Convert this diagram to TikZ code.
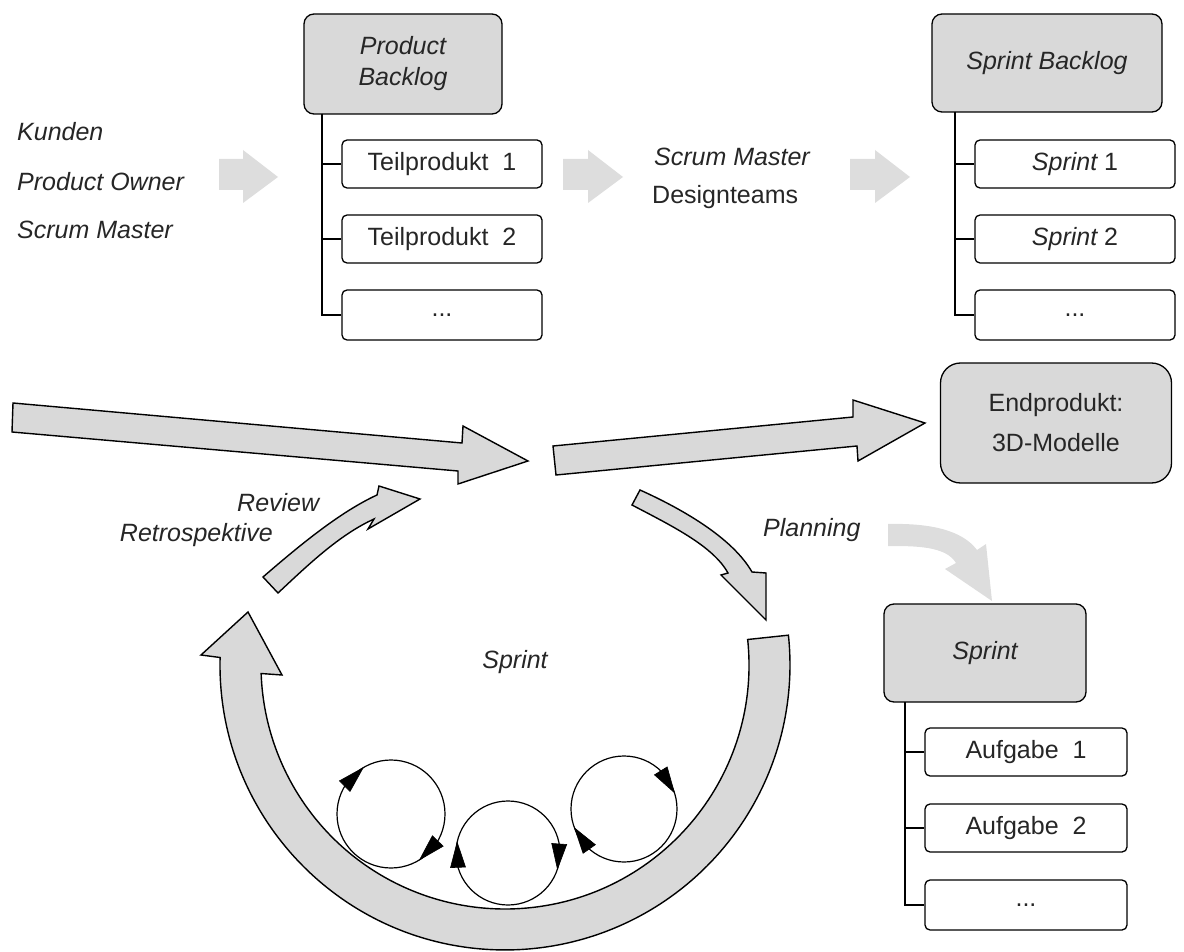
\documentclass[tikz,border=0pt]{standalone}
\usepackage{fontspec}
\setmainfont{Liberation Sans}
\usetikzlibrary{arrows.meta,calc}
\definecolor{boxgray}{HTML}{D9D9D9}
\definecolor{lightgr}{HTML}{DDDDDD}
\definecolor{txt}{HTML}{262626}
\newcommand\myfs{\fontsize{25}{31}\selectfont}
\begin{document}
\begin{tikzpicture}[x=1pt,y=-1pt,
  box/.style={draw=black, line width=1.3pt, rounded corners=5pt, minimum width=200pt,
    minimum height=48pt, inner sep=0pt, font=\myfs, text=txt, fill=white},
  headbox/.style={box, fill=boxgray, rounded corners=10pt, align=center},
  lbl/.style={font=\myfs\itshape, text=txt, inner sep=0pt},
  plain/.style={font=\myfs, text=txt, inner sep=0pt},
  tree/.style={line width=1.3pt, draw=black},
  bigarrow/.style={draw=black, line width=1.4pt, fill=boxgray, line join=miter},
  lightarrow/.style={fill=lightgr, draw=none},
  loopline/.style={line width=1.2pt},
  looptri/.style={fill=black, draw=black, line width=0.6pt, line join=miter}]
\useasboundingbox (0,0) rectangle (1184,952);

% ---- left labels
\node[lbl, anchor=west] (kunden) at (17,132) {Kunden};
\node[lbl, anchor=west] (po) at (17,182) {Product Owner};
\node[lbl, anchor=west] (sm1) at (17,230) {Scrum Master};

% ---- light arrows top row
\fill[lightarrow] (219,159) -- (243,159) -- (243,150) -- (278,177) -- (243,203) -- (243,190) -- (219,190) -- cycle;
\fill[lightarrow] (563,159) -- (588,159) -- (588,150) -- (623,177) -- (588,203) -- (588,190) -- (563,190) -- cycle;
\fill[lightarrow] (850,159) -- (875,159) -- (875,150) -- (910,177) -- (875,203) -- (875,190) -- (850,190) -- cycle;

% ---- Product backlog tree
\node[headbox, minimum width=198pt, minimum height=100pt, font=\myfs\itshape] (pb) at (403,64) {Product\\Backlog};
\node[box] (t1) at (442,164) {Teilprodukt\ \ 1};
\node[box] (t2) at (442,239) {Teilprodukt\ \ 2};
\node[box, minimum height=50pt] (t3) at (442,315) {...};
\coordinate (pbl) at (322,114);
\draw[tree] (pbl) |- (t1.west);
\draw[tree] (pbl) |- (t2.west);
\draw[tree] (pbl) |- (t3.west);

% ---- middle labels
\node[lbl, anchor=west] (sm2) at (654,157) {Scrum Master};
\node[plain, anchor=west] (dt) at (652,197) {Designteams};

% ---- Sprint backlog tree
\node[headbox, minimum width=230pt, minimum height=98pt, font=\myfs\itshape] (sb) at (1047,63) {Sprint Backlog};
\node[box] (s1) at (1075,164) {{\itshape Sprint} 1};
\node[box] (s2) at (1075,239) {{\itshape Sprint} 2};
\node[box, minimum height=50pt] (s3) at (1075,315) {...};
\coordinate (sbl) at (955,112);
\draw[tree] (sbl) |- (s1.west);
\draw[tree] (sbl) |- (s2.west);
\draw[tree] (sbl) |- (s3.west);

% ---- big arrows
\draw[bigarrow] (13,403) -- (462,443) -- (463,426) -- (528,461) -- (458,484) -- (458,471) -- (12,432) -- cycle;
\draw[bigarrow] (553,446) -- (853,417) -- (853,400) -- (925,423) -- (858,461) -- (857,446) -- (556,475) -- cycle;

% ---- Endprodukt
\node[headbox, rounded corners=20pt, minimum width=231pt, minimum height=120pt,
  font=\fontsize{25}{40}\selectfont] (ep) at (1056,423) {Endprodukt:\\3D-Modelle};

% ---- small curved arrows
\draw[bigarrow] (263,577) .. controls (300,545) and (340,512) .. (377,495) -- (379,486)
  -- (420,499) -- (368,529) -- (374,519) .. controls (339,535) and (308,565) .. (278,593) -- cycle;
\draw[bigarrow] (640,490) .. controls (680,508) and (732,537) .. (752,572) -- (766,573)
  -- (766,620) -- (721,575) -- (728,573) .. controls (713,546) and (672,526) .. (632,505) -- cycle;

\node[lbl, anchor=west] (review) at (237,503) {Review};
\node[lbl, anchor=east] (retro) at (273,535) {Retrospektive};
\node[lbl, anchor=west] (planning) at (763,530) {Planning};

% ---- light curved arrow
\fill[lightarrow] (888,524) .. controls (930,523) and (962,530) .. (977,550) -- (986,544)
  -- (992,601) -- (945,569) -- (956,563) .. controls (946,546) and (915,546) .. (888,546) -- cycle;

% ---- Sprint tree
\node[headbox, minimum width=202pt, minimum height=98pt, font=\myfs\itshape] (sp) at (985,653) {Sprint};
\node[box, minimum width=202pt] (a1) at (1026,752) {Aufgabe\ \ 1};
\node[box, minimum width=202pt] (a2) at (1026,828) {Aufgabe\ \ 2};
\node[box, minimum width=202pt, minimum height=50pt] (a3) at (1026,905) {...};
\coordinate (spl) at (905,702);
\draw[tree] (spl) |- (a1.west);
\draw[tree] (spl) |- (a2.west);
\draw[tree] (spl) |- (a3.west);

% ---- U arrow
\draw[bigarrow] (505,665) ++(-6:244) arc[start angle=-6, end angle=178, radius=244]
  -- (282,675) -- (248,612) -- (201,655) -- (220.1,657.5)
  arc[start angle=181.5, end angle=-6, radius=285] -- cycle;

\node[lbl] (sprint) at (515,662) {Sprint};

% ---- loops
\coordinate (ca) at (391,814);
\coordinate (cb) at (508,853);
\coordinate (cc) at (624,809);
\draw[loopline] (ca) circle[radius=54];
\draw[loopline] (cb) circle[radius=52];
\draw[loopline] (cc) circle[radius=53];
\foreach \c/\r/\a in {ca/54/239, ca/54/58, cb/52/192, cb/52/18, cc/53/-18, cc/53/159} {
  \coordinate (tp) at ($(\c)+(\a:\r)$);
  \coordinate (bs) at ($(\c)+(\a-28:\r)$);
  \fill[looptri] (tp) -- ($(bs)!7.5pt!90:(tp)$) -- ($(bs)!7.5pt!-90:(tp)$) -- cycle;
}
\end{tikzpicture}
\end{document}
